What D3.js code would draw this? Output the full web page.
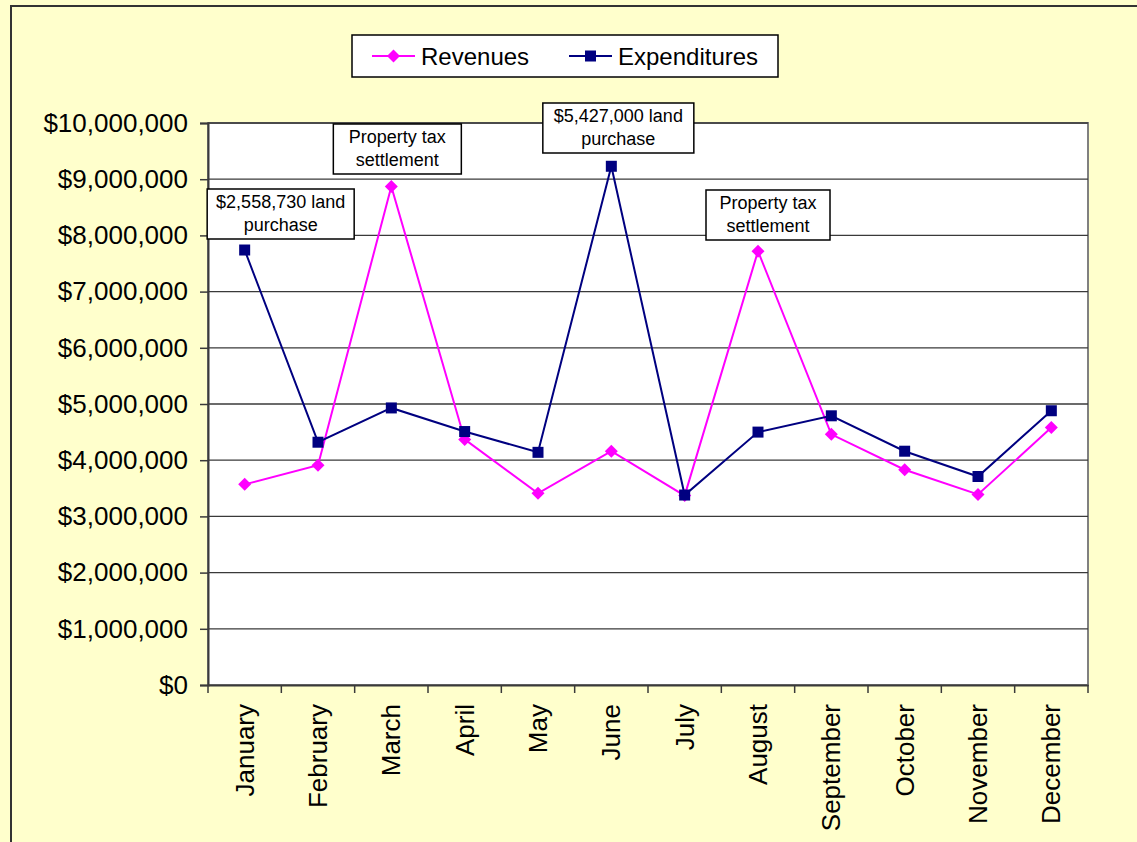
<!DOCTYPE html>
<html>
<head>
<meta charset="utf-8">
<script src="https://cdn.jsdelivr.net/npm/d3@7"></script>
<style>
  html, body { margin: 0; padding: 0; background: #FFFFCC; }
  svg { display: block; font-family: "Liberation Sans", Arial, sans-serif; }
</style>
</head>
<body>
<svg id="chart" width="1137" height="842"></svg>
<script>
const months = ["January","February","March","April","May","June","July","August","September","October","November","December"];
const revenues = [3570000, 3910000, 8870000, 4370000, 3410000, 4160000, 3370000, 7720000, 4460000, 3830000, 3390000, 4580000];
const expenditures = [7740000, 4320000, 4930000, 4510000, 4140000, 9230000, 3380000, 4500000, 4790000, 4160000, 3710000, 4880000];
const yTicks = [0, 1000000, 2000000, 3000000, 4000000, 5000000, 6000000, 7000000, 8000000, 9000000, 10000000];
const seriesNames = ["Revenues", "Expenditures"];
const annotationMonths = ["January", "March", "June", "August"];
const annotationLines = [["$2,558,730 land", "purchase"], ["Property tax", "settlement"], ["$5,427,000 land", "purchase"], ["Property tax", "settlement"]];

// layout
const W = 1137, H = 842;
const plot = {left: 208, right: 1088, top: 123, bottom: 685};
const revColor = "#FF00FF", expColor = "#000080";
const svg = d3.select("#chart");

// background & outer border
svg.append("rect").attr("x", 0).attr("y", 0).attr("width", W).attr("height", H).attr("fill", "#FFFFCC");
svg.append("rect").attr("x", 11).attr("y", 6).attr("width", W + 20).attr("height", H + 20)
  .attr("fill", "#FFFFCC").attr("stroke", "#333").attr("stroke-width", 2);

const x = d3.scaleBand().domain(months).range([plot.left, plot.right]).padding(0);
const y = d3.scaleLinear().domain([0, 10000000]).range([plot.bottom, plot.top]);
const cx = m => x(m) + x.bandwidth() / 2;

// plot area
svg.append("rect").attr("x", plot.left).attr("y", plot.top)
  .attr("width", plot.right - plot.left).attr("height", plot.bottom - plot.top)
  .attr("fill", "#fff").attr("stroke", "#808080").attr("stroke-width", 2);

// gridlines
svg.append("g").selectAll("line").data(yTicks.filter(d => d > 0)).join("line")
  .attr("x1", plot.left).attr("x2", plot.right)
  .attr("y1", d => y(d)).attr("y2", d => y(d))
  .attr("stroke", "#3a3a3a").attr("stroke-width", 1.3);

// y axis
const fmt = d => "$" + d3.format(",")(d);
const yAxis = d3.axisLeft(y).tickValues(yTicks).tickFormat(fmt).tickSize(8).tickPadding(12);
const gy = svg.append("g").attr("transform", `translate(${plot.left},0)`).call(yAxis);
gy.select(".domain").attr("stroke", "#3a3a3a").attr("stroke-width", 2);
gy.selectAll(".tick line").attr("stroke", "#3a3a3a").attr("stroke-width", 1.5);
gy.selectAll(".tick text").attr("font-size", 26).attr("fill", "#000")
  .attr("font-family", "Liberation Sans, Arial, sans-serif");

// x axis
const xAxis = d3.axisBottom(x).tickSize(0).tickFormat("");
const gx = svg.append("g").attr("transform", `translate(0,${plot.bottom})`).call(xAxis);
gx.select(".domain").attr("stroke", "#3a3a3a").attr("stroke-width", 2);
gx.selectAll(".tick").remove();
const boundaries = months.map(m => x(m)).concat([plot.right]);
svg.append("g").selectAll("line").data(boundaries).join("line")
  .attr("x1", d => d).attr("x2", d => d)
  .attr("y1", plot.bottom).attr("y2", plot.bottom + 8)
  .attr("stroke", "#3a3a3a").attr("stroke-width", 1.5);
svg.append("g").selectAll("text").data(months).join("text")
  .attr("transform", d => `translate(${cx(d)},${plot.bottom + 19}) rotate(-90)`)
  .attr("text-anchor", "end").attr("dominant-baseline", "central")
  .attr("font-size", 26).attr("fill", "#000").text(d => d);

// lines
const line = d3.line().x((d, i) => cx(months[i])).y(d => y(d));
svg.append("path").datum(revenues).attr("d", line).attr("fill", "none")
  .attr("stroke", revColor).attr("stroke-width", 2);
svg.append("path").datum(expenditures).attr("d", line).attr("fill", "none")
  .attr("stroke", expColor).attr("stroke-width", 2);

const diamond = (px, py, r) => `M${px},${py - r}L${px + r},${py}L${px},${py + r}L${px - r},${py}Z`;
svg.append("g").selectAll("path").data(revenues).join("path")
  .attr("d", (d, i) => diamond(cx(months[i]), y(d), 6.5)).attr("fill", revColor);
svg.append("g").selectAll("rect").data(expenditures).join("rect")
  .attr("x", (d, i) => cx(months[i]) - 5.5).attr("y", d => y(d) - 5.5)
  .attr("width", 11).attr("height", 11).attr("fill", expColor);

// annotations (box offsets relative to the data point they describe)
const annOffsets = [{dx: 36, top: 189}, {dx: 6, top: 124}, {dx: 7, top: 103}, {dx: 10, top: 190}];
const boxW = [147, 128, 151, 124], boxH = 50;
annotationMonths.forEach((m, i) => {
  const bx = cx(m) + annOffsets[i].dx;
  const by = annOffsets[i].top;
  const g = svg.append("g");
  g.append("rect").attr("x", bx - boxW[i] / 2).attr("y", by).attr("width", boxW[i]).attr("height", boxH)
    .attr("fill", "#fff").attr("stroke", "#000").attr("stroke-width", 1.5);
  g.selectAll("text").data(annotationLines[i]).join("text")
    .attr("x", bx).attr("y", (d, j) => by + 19 + j * 23)
    .attr("text-anchor", "middle").attr("font-size", 18).attr("fill", "#000").text(d => d);
});

// legend
const lg = svg.append("g");
lg.append("rect").attr("x", 352).attr("y", 35).attr("width", 426).attr("height", 42)
  .attr("fill", "#fff").attr("stroke", "#000").attr("stroke-width", 1.5);
const legendItems = [{name: seriesNames[0], color: revColor, x0: 372}, {name: seriesNames[1], color: expColor, x0: 569}];
legendItems.forEach((it, i) => {
  lg.append("line").attr("x1", it.x0).attr("x2", it.x0 + 43).attr("y1", 56).attr("y2", 56)
    .attr("stroke", it.color).attr("stroke-width", 2);
  if (i === 0) lg.append("path").attr("d", diamond(it.x0 + 21.5, 56, 6.5)).attr("fill", it.color);
  else lg.append("rect").attr("x", it.x0 + 16).attr("y", 50.5).attr("width", 11).attr("height", 11).attr("fill", it.color);
  lg.append("text").attr("x", it.x0 + 49).attr("y", 56).attr("dominant-baseline", "central")
    .attr("font-size", 24).attr("fill", "#000").text(it.name);
});
</script>
</body>
</html>
